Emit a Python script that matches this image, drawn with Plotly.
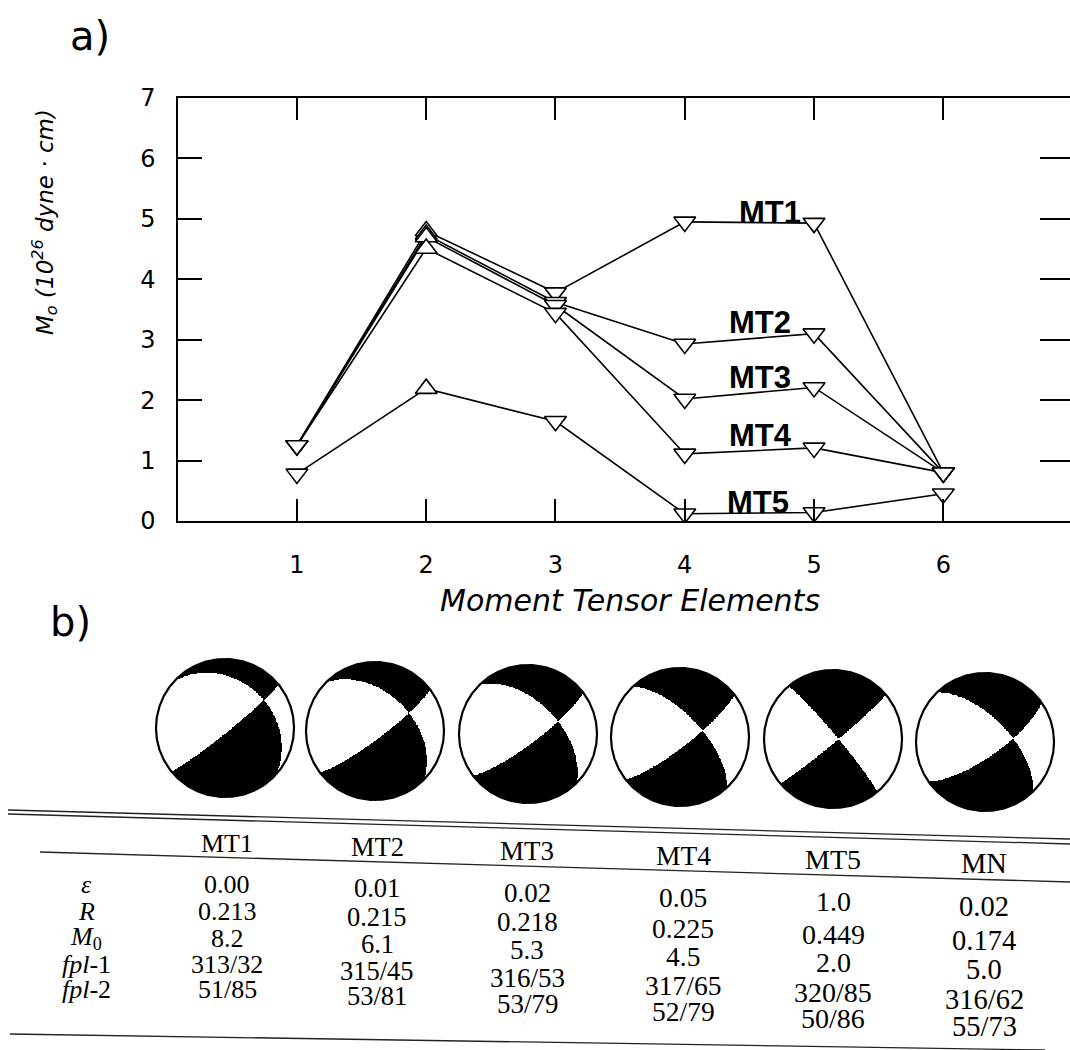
import numpy as np
import plotly.graph_objects as go

W, H = 1070, 1050

# ---------------- data: panel a ----------------
elements = [1, 2, 3, 4, 5, 6]
mt1 = [1.25, 4.80, 3.78, 4.95, 4.93, 0.80]
mt2 = [1.25, 4.74, 3.62, 2.93, 3.10, 0.80]
mt3 = [1.25, 4.70, 3.57, 2.02, 2.21, 0.80]
mt4 = [1.25, 4.51, 3.44, 1.11, 1.21, 0.80]
mt5 = [0.78, 2.19, 1.65, 0.12, 0.14, 0.45]
series_names = ["MT1", "MT2", "MT3", "MT4", "MT5"]
x_tick_vals = [1, 2, 3, 4, 5, 6]
y_tick_vals = [0, 1, 2, 3, 4, 5, 6, 7]

# ---------------- data: panel b table ----------------
table_cols = ["MT1", "MT2", "MT3", "MT4", "MT5", "MN"]
row_labels = ["<i>ε</i>", "<i>R</i>", "<i>M</i><sub>0</sub>", "<i>fpl</i>-1", "<i>fpl</i>-2"]
eps_vals = ["0.00", "0.01", "0.02", "0.05", "1.0", "0.02"]
r_vals = ["0.213", "0.215", "0.218", "0.225", "0.449", "0.174"]
m0_vals = ["8.2", "6.1", "5.3", "4.5", "2.0", "5.0"]
fpl1_vals = ["313/32", "315/45", "316/53", "317/65", "320/85", "316/62"]
fpl2_vals = ["51/85", "53/81", "53/79", "52/79", "50/86", "55/73"]


def fx(x):
    return x / W


def fy(y):
    return 1 - y / H


fig = go.Figure()

# ---------------- panel a: lines ----------------
sym = ["triangle-down", "triangle-up", "triangle-down", "triangle-down", "triangle-down", "triangle-down"]
for name, vals in zip(series_names, [mt1, mt2, mt3, mt4, mt5]):
    fig.add_trace(go.Scatter(
        x=elements, y=vals, mode="lines+markers", name=name, showlegend=False,
        line=dict(color="black", width=1.6),
        marker=dict(symbol=sym, size=19, color="white", line=dict(color="black", width=1.6)),
        xaxis="x", yaxis="y", hoverinfo="skip"))

# empty trace for right-side tick axis
fig.add_trace(go.Scatter(x=[None], y=[None], xaxis="x", yaxis="y2", showlegend=False, hoverinfo="skip"))

# ---------------- panel b: beach balls ----------------
def normal(strike, dip):
    s, d = np.radians(strike), np.radians(dip)
    return np.array([-np.sin(d) * np.sin(s), np.sin(d) * np.cos(s), -np.cos(d)])


ball_cx = [225, 375, 528, 680, 833, 985]
ball_cy = [728, 731, 734, 737, 739, 742]
ball_r = 69
N = 221
u = np.linspace(-1, 1, N)
UE, VS = np.meshgrid(u, u)          # east, south (pixel-down) coordinates
VN = -VS
rr = np.sqrt(UE ** 2 + VN ** 2)
theta = 2 * np.arcsin(np.clip(rr / np.sqrt(2), 0, 1))
az = np.arctan2(UE, VN)
dN = np.sin(theta) * np.cos(az)
dE = np.sin(theta) * np.sin(az)
dD = np.cos(theta)
tt = np.linspace(0, 2 * np.pi, 361)

for i, (f1, f2) in enumerate(zip(fpl1_vals, fpl2_vals)):
    s1, d1 = [float(v) for v in f1.split("/")]
    s2, d2 = [float(v) for v in f2.split("/")]
    n1, n2 = normal(s1, d1), normal(s2, d2)
    a1 = dN * n1[0] + dE * n1[1] + dD * n1[2]
    a2 = dN * n2[0] + dE * n2[1] + dD * n2[2]
    z = np.where(a1 * a2 < 0, 1.0, 0.0)
    z[rr > 1] = np.nan
    cx, cy = ball_cx[i], ball_cy[i]
    fig.add_trace(go.Heatmap(
        x=cx + ball_r * u, y=cy + ball_r * u, z=z, zmin=0, zmax=1,
        colorscale=[[0, "white"], [1, "black"]], showscale=False,
        xaxis="x3", yaxis="y3", hoverinfo="skip"))
    fig.add_trace(go.Scatter(
        x=cx + ball_r * np.cos(tt), y=cy + ball_r * np.sin(tt), mode="lines",
        line=dict(color="black", width=2.2), showlegend=False,
        xaxis="x3", yaxis="y3", hoverinfo="skip"))

# ---------------- layout ----------------
tick_font = dict(family="DejaVu Sans", size=24, color="black")
fig.update_layout(
    width=W, height=H, autosize=False,
    margin=dict(l=0, r=0, t=0, b=0),
    paper_bgcolor="white", plot_bgcolor="white",
    xaxis=dict(domain=[fx(178), 1.0], range=[0.08, 6.98], tickvals=x_tick_vals,
               ticks="inside", ticklen=22, tickwidth=1.5, tickcolor="black",
               showline=True, linecolor="black", linewidth=1.5, mirror="ticks",
               showgrid=False, zeroline=False, tickfont=tick_font,
               ticklabelstandoff=21, automargin=False),
    yaxis=dict(domain=[fy(521), fy(98)], range=[0, 7], tickvals=y_tick_vals,
               ticks="inside", ticklen=24, tickwidth=1.5, tickcolor="black",
               showline=True, linecolor="black", linewidth=1.5,
               showgrid=False, zeroline=False, tickfont=tick_font,
               ticklabelstandoff=16, automargin=False),
    yaxis2=dict(overlaying="y", side="right", anchor="x", range=[0, 7], tickvals=[1, 2, 3, 4, 5, 6],
                ticks="inside", ticklen=30, tickwidth=1.5, tickcolor="black",
                showline=False, showgrid=False, zeroline=False, showticklabels=False),
    xaxis3=dict(domain=[0, 1], range=[0, W], visible=False, anchor="y3"),
    yaxis3=dict(domain=[fy(815), fy(650)], range=[815, 650], visible=False, anchor="x3"),
)


def text_ann(xp, yp, text, font, **kw):
    d = dict(x=fx(xp), y=fy(yp), text=text, showarrow=False, xref="paper", yref="paper",
             xanchor="center", yanchor="middle", font=font)
    d.update(kw)
    return d


ann = []
# panel letters
ann.append(text_ann(90, 36, "a)", dict(family="DejaVu Sans", size=40, color="black")))
ann.append(text_ann(70, 622, "b)", dict(family="DejaVu Sans", size=40, color="black")))
# axis titles
ann.append(text_ann(45, 222, "<i>M<sub>o</sub> (10<sup>26</sup> dyne · cm)</i>",
                    dict(family="DejaVu Sans", size=23, color="black"), textangle=-90))
ann.append(text_ann(630, 600, "<i>Moment Tensor Elements</i>",
                    dict(family="DejaVu Sans", size=30, color="black")))
# series labels
label_pos = [(770, 212), (760, 322), (760, 377), (760, 435), (758, 502)]
for name, (lx, ly) in zip(series_names, label_pos):
    ann.append(text_ann(lx, ly, "<b>%s</b>" % name, dict(family="Liberation Sans", size=31, color="black")))

# table text (scan perspective: positions interpolated between left and right columns)
col_x = [227, 377, 527, 683, 833, 984]
head_yl, head_yr = 843, 863
rows_yl = [884, 911, 938, 964, 989]
rows_yr = [906, 940, 969, 999, 1026]


def frac(x):
    return (x - col_x[0]) / (col_x[-1] - col_x[0])


def fsize(x):
    return 26 + 2.5 * max(0.0, frac(x))


serif = "Liberation Serif"
for j, cname in enumerate(table_cols):
    xx = col_x[j]
    f = frac(xx)
    ann.append(text_ann(xx, head_yl + f * (head_yr - head_yl), cname,
                        dict(family=serif, size=fsize(xx), color="black")))
    for k, vals in enumerate([eps_vals, r_vals, m0_vals, fpl1_vals, fpl2_vals]):
        yy = rows_yl[k] + f * (rows_yr[k] - rows_yl[k])
        ann.append(text_ann(xx, yy, vals[j], dict(family=serif, size=fsize(xx), color="black")))
for k, lab in enumerate(row_labels):
    ann.append(text_ann(86, rows_yl[k], lab, dict(family=serif, size=26, color="black")))

fig.update_layout(annotations=ann)

# table rules
rules = [((8, 810), (1070, 839)), ((8, 814), (1070, 844)), ((40, 852), (1070, 882)), ((10, 1034), (1045, 1050))]
shapes = []
for (x0, y0), (x1, y1) in rules:
    shapes.append(dict(type="line", xref="paper", yref="paper", x0=fx(x0), y0=fy(y0), x1=fx(x1), y1=fy(y1),
                       line=dict(color="#222222", width=1.3)))
fig.update_layout(shapes=shapes)

fig.write_html("out.html")
